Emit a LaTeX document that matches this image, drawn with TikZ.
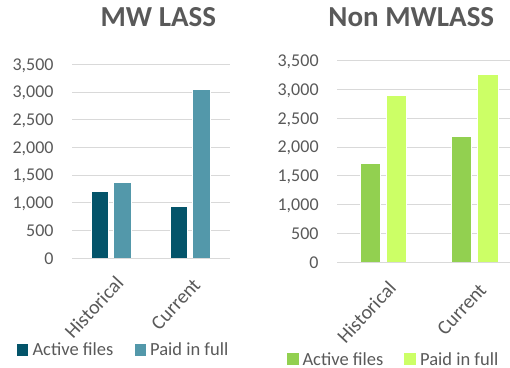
\documentclass[tikz,border=0pt]{standalone}
\usepackage{fontspec}
\setmainfont{Carlito}
\definecolor{txt}{HTML}{595959}
\definecolor{grid}{HTML}{D9D9D9}
\definecolor{tealdark}{HTML}{04546A}
\definecolor{teallight}{HTML}{5398AA}
\definecolor{greendark}{HTML}{92D050}
\definecolor{greenlight}{HTML}{CCFF66}
\tikzset{
  gridline/.style={draw=grid, line width=1pt},
  ylab/.style={anchor=base east, inner sep=0pt, text=txt, font=\fontsize{18}{18}\selectfont},
  catlab/.style={anchor=north east, inner sep=0pt, rotate=47, text=txt, font=\fontsize{20}{20}\selectfont},
  legtext/.style={anchor=base west, inner sep=0pt, text=txt, font=\fontsize{18.5}{18}\selectfont},
  ttl/.style={anchor=base, inner sep=0pt, text=txt, font=\fontsize{29}{29}\selectfont\bfseries},
  barbox/.style={draw=white, line width=0.6pt}
}
\begin{document}
\begin{tikzpicture}[x=1pt,y=-1pt]
\useasboundingbox (0,0) rectangle (510,367);
% ---------- Left chart: MW LASS ----------
\node[ttl] (t1) at (158.3,26.7) {MW LASS};
\foreach \y/\lab [count=\i] in {258.3/0,230.6/500,202.9/{1,000},175.2/{1,500},147.6/{2,000},119.9/{2,500},92.2/{3,000},64.5/{3,500}}{
  \draw[gridline] (72,\y) -- (230,\y);
  \node[ylab] (ly\i) at (53.8,\y+5.7) {\lab};
}
\fill[tealdark,barbox] (91,258.3) rectangle (108.7,191.3);
\fill[teallight,barbox] (113.7,258.3) rectangle (131,182.7);
\fill[tealdark,barbox] (170,258.3) rectangle (187.7,206.7);
\fill[teallight,barbox] (192.3,258.3) rectangle (210,89.7);
\draw[gridline] (72,258.3) -- (230,258.3);
\node[catlab] (c1) at (114.5,274.5) {Historical};
\node[catlab] (c2) at (192,277) {Current};
\fill[tealdark] (16.7,344.3) rectangle (28.3,355.7);
\node[legtext] (lg1) at (32.3,355.7) {Active files};
\fill[teallight] (135,344.3) rectangle (146.3,355.7);
\node[legtext] (lg2) at (150,355.7) {Paid in full};
% ---------- Right chart: Non MWLASS ----------
\node[ttl] (t2) at (411.3,26.7) {Non MWLASS};
\foreach \y/\lab [count=\i] in {262.3/0,233.5/500,204.7/{1,000},175.9/{1,500},147.1/{2,000},118.3/{2,500},89.5/{3,000},60.7/{3,500}}{
  \draw[gridline] (337.3,\y) -- (510,\y);
  \node[ylab] (ry\i) at (318.8,\y+5.7) {\lab};
}
\fill[greendark,barbox] (360,262.3) rectangle (380.3,163.3);
\fill[greenlight,barbox] (386,262.3) rectangle (406.7,95);
\fill[greendark,barbox] (451,262.3) rectangle (471.7,136.7);
\fill[greenlight,barbox] (477,262.3) rectangle (498,74.7);
\draw[gridline] (337.3,262.3) -- (510,262.3);
\node[catlab] (c3) at (387,279.5) {Historical};
\node[catlab] (c4) at (478,282) {Current};
\fill[greendark] (287.3,353.3) rectangle (298.5,365);
\node[legtext] (lg3) at (302.3,365) {Active files};
\fill[greenlight] (404.3,353.3) rectangle (416,365);
\node[legtext] (lg4) at (420,365) {Paid in full};
\end{tikzpicture}
\end{document}
